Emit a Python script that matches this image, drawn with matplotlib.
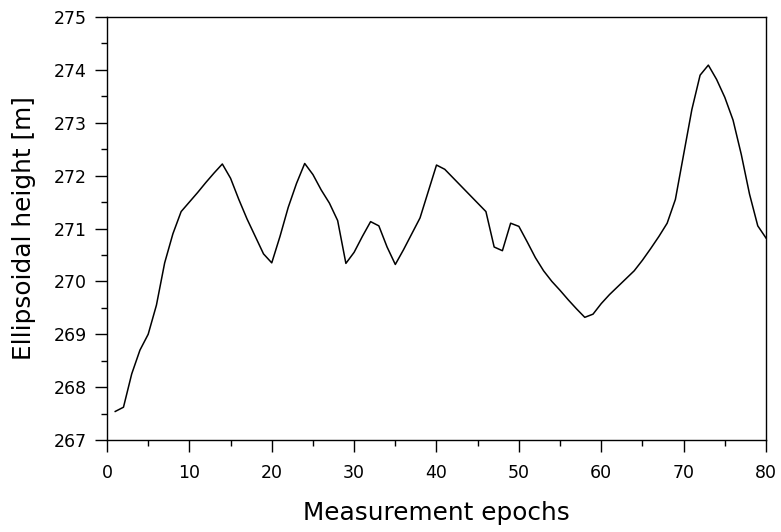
import matplotlib
matplotlib.use("Agg")
import matplotlib.pyplot as plt
from matplotlib.ticker import MultipleLocator

epochs = list(range(1, 81))
heights = [
    267.54, 267.62, 268.25, 268.70, 269.00, 269.55, 270.35, 270.90, 271.32, 271.50,
    271.68, 271.87, 272.05, 272.22, 271.95, 271.55, 271.18, 270.85, 270.52, 270.35,
    270.85, 271.40, 271.85, 272.23, 272.02, 271.73, 271.48, 271.15, 270.34, 270.55,
    270.85, 271.13, 271.05, 270.65, 270.32, 270.60, 270.90, 271.20, 271.70, 272.20,
    272.12, 271.96, 271.80, 271.64, 271.48, 271.32, 270.65, 270.58, 271.10, 271.04,
    270.75, 270.45, 270.20, 270.00, 269.83, 269.65, 269.48, 269.32, 269.38, 269.58,
    269.75, 269.90, 270.05, 270.20, 270.40, 270.62, 270.85, 271.10, 271.55, 272.40,
    273.25, 273.90, 274.09, 273.82, 273.48, 273.05, 272.40, 271.65, 271.05, 270.82,
]
xticks = [0, 10, 20, 30, 40, 50, 60, 70, 80]
yticks = [267, 268, 269, 270, 271, 272, 273, 274, 275]

plt.rcParams["font.family"] = ["DejaVu Sans"]

fig = plt.figure(figsize=(7.81, 5.32), dpi=100)
# axes box: x 107..766 px, y 17..440 px
ax = fig.add_axes([107 / 781, 1 - 440 / 532, 659 / 781, 423 / 532])
ax.plot(epochs, heights, color="black", linewidth=1.1)

ax.set_xlim(0, 80)
ax.set_ylim(267, 275)
ax.set_xticks(xticks)
ax.set_yticks(yticks)
ax.xaxis.set_minor_locator(MultipleLocator(5))
ax.yaxis.set_minor_locator(MultipleLocator(0.5))
ax.tick_params(which="major", direction="out", length=8.6, width=1, labelsize=12.5)
ax.tick_params(axis="y", which="major", pad=5.8)
ax.tick_params(axis="x", which="major", pad=8.6)
ax.tick_params(which="minor", direction="out", length=4.3, width=1)
ax.tick_params(top=False, right=False, which="both")
for s in ax.spines.values():
    s.set_linewidth(1)

ax.set_xlabel("Measurement epochs", fontsize=17.8, labelpad=14)
ax.set_ylabel("Ellipsoidal height [m]", fontsize=17.8, labelpad=13)

fig.savefig("out.png", dpi=100)
